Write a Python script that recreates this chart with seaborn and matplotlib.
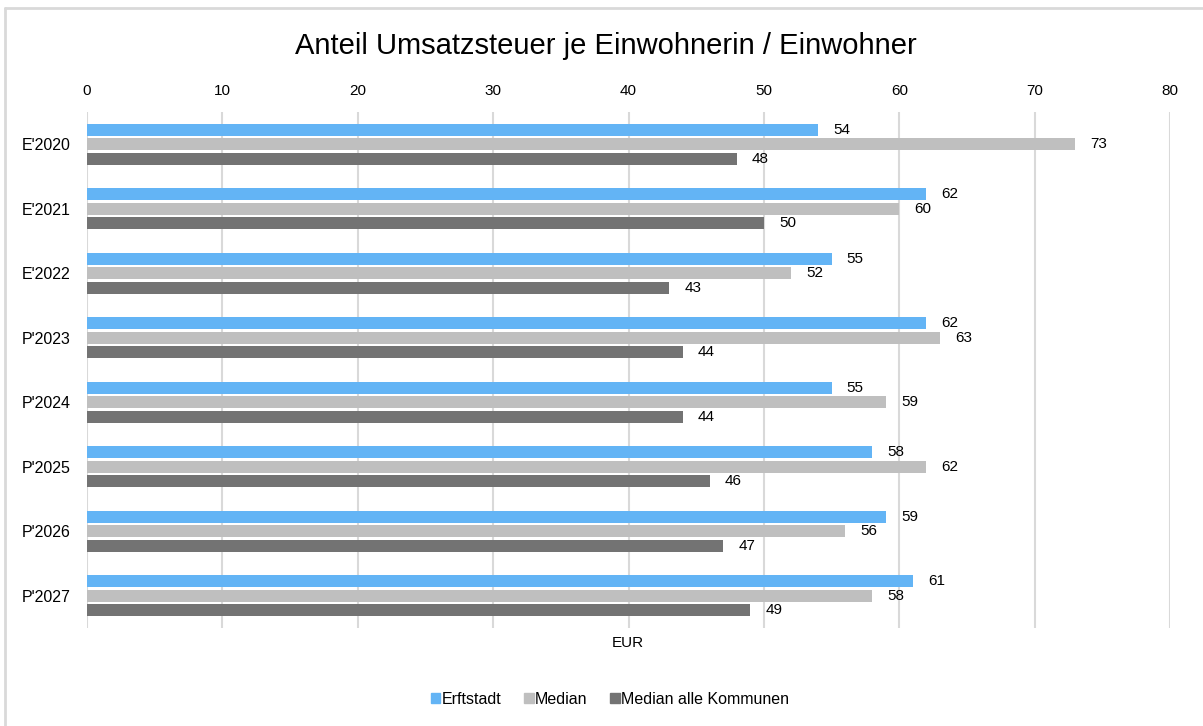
import pandas as pd
import seaborn as sns
import matplotlib.pyplot as plt
from matplotlib.lines import Line2D

years = ["E'2020", "E'2021", "E'2022", "P'2023", "P'2024", "P'2025", "P'2026", "P'2027"]
erftstadt = [54, 62, 55, 62, 55, 58, 59, 61]
median = [73, 60, 52, 63, 59, 62, 56, 58]
median_alle = [48, 50, 43, 44, 44, 46, 47, 49]
series = ["Erftstadt", "Median", "Median alle Kommunen"]
colors = ["#63B4F5", "#BFBFBF", "#737373"]

df = pd.DataFrame({"Jahr": years, series[0]: erftstadt, series[1]: median, series[2]: median_alle})
plot_df = df.melt(id_vars="Jahr", var_name="Reihe", value_name="Wert")

sns.set_theme(style="white")
plt.rcParams["font.family"] = ["Liberation Sans", "DejaVu Sans"]
plt.rcParams["text.color"] = "black"

fig = plt.figure(figsize=(12.03, 7.26), dpi=100)
ax = fig.add_axes([87 / 1203, 1 - 628 / 726, (1170 - 87) / 1203, (628 - 112) / 726])

sns.barplot(
    data=plot_df, y="Jahr", x="Wert", hue="Reihe", orient="h",
    palette=colors, saturation=1, width=0.67, gap=0.15, linewidth=0,
    ax=ax, legend=False,
)

for container in ax.containers:
    ax.bar_label(container, fmt="%d", padding=11, fontsize=11, color="black")

ax.set_xlim(0, 80)
ax.set_ylim(7.5, -0.5)
ax.set_xticks(range(0, 81, 10))
ax.xaxis.tick_top()
ax.tick_params(axis="x", length=0, labelsize=11, pad=10, colors="black")
ax.tick_params(axis="y", length=0, labelsize=11.5, pad=12, colors="black")
ax.xaxis.grid(True, color="#D9D9D9", linewidth=1.5)
ax.set_axisbelow(True)
for s in ax.spines.values():
    s.set_visible(False)
ax.set_ylabel("")
ax.set_xlabel("")
fig.text(628 / 1203, 1 - 643 / 726, "EUR", ha="center", va="center", fontsize=11, color="black")

fig.suptitle("Anteil Umsatzsteuer je Einwohnerin / Einwohner", x=606 / 1203, y=1 - 46 / 726,
             va="center", fontsize=21, color="black")

handles = [plt.Rectangle((0, 0), 1, 1, color=c) for c in colors]
fig.legend(handles, series, loc="center", bbox_to_anchor=(610 / 1203, 1 - 699 / 726), ncol=3,
           frameon=False, fontsize=11.5, handlelength=0.6, handleheight=0.6,
           handletextpad=0.1, columnspacing=1.4, labelcolor="black")

fig.add_artist(Line2D([5 / 1203, 5 / 1203], [0, 1 - 8 / 726], color="#D9D9D9", linewidth=2,
                      transform=fig.transFigure))
fig.add_artist(Line2D([5 / 1203, 1], [1 - 8 / 726, 1 - 8 / 726], color="#D9D9D9", linewidth=2,
                      transform=fig.transFigure))

fig.savefig("out.png", dpi=100)
